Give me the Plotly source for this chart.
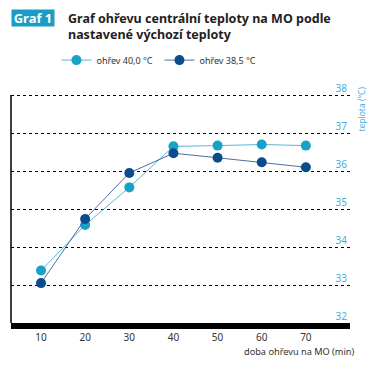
import plotly.graph_objects as go

# ---- data ----
minutes = [10, 20, 30, 40, 50, 60, 70]
ohrev_40 = [33.38, 34.58, 35.57, 36.65, 36.67, 36.70, 36.67]
ohrev_385 = [33.05, 34.74, 35.95, 36.47, 36.35, 36.23, 36.10]
series_names = ["ohřev 40,0 °C", "ohřev 38,5 °C"]
y_ticks = [32, 33, 34, 35, 36, 37, 38]
x_ticks = [10, 20, 30, 40, 50, 60, 70]
x_minor = [15, 25, 35, 45, 55, 65]
Y_MIN, Y_MAX = 32, 38

# page has an 8px body margin: the figure is drawn shifted by OFF px
OFF = 8
W, H = 375 - OFF, 370 - OFF
Y_TOP = 38.45                     # a little headroom so the "38" label can show
PLOT_L, PLOT_R, PLOT_B = 10.5, 350, 323          # page pixels (reference)
UNIT = 38.0                                         # px per degree
PLOT_T = PLOT_B - (Y_TOP - Y_MIN) * UNIT
ML = PLOT_L - OFF
MR = W - (PLOT_R - OFF)
MT = PLOT_T - OFF
MB = H - (PLOT_B - OFF)
PW, PH = W - ML - MR, H - MT - MB

def px(x):
    return (x - OFF - ML) / PW

def py(y):
    return (H - MB - (y - OFF)) / PH

CYAN = "#19a2c8"
DARK = "#0b4c8c"
FONT = "Noto Sans"

fig = go.Figure()
fig.add_trace(go.Scatter(
    x=minutes, y=ohrev_40, name=series_names[0], mode="lines+markers",
    line=dict(color="rgba(60,170,205,0.85)", width=1),
    marker=dict(color=CYAN, size=10),
))
fig.add_trace(go.Scatter(
    x=minutes, y=ohrev_385, name=series_names[1], mode="lines+markers",
    line=dict(color="rgba(50,85,140,0.85)", width=1),
    marker=dict(color=DARK, size=10),
))

fig.update_layout(
    width=W, height=H,
    margin=dict(l=ML, r=MR, t=MT, b=MB, autoexpand=False),
    paper_bgcolor="white", plot_bgcolor="white",
    font=dict(family=FONT, size=10, color="#333333"),
    showlegend=True,
    legend=dict(orientation="h", x=px(56), y=py(60), xanchor="left", yanchor="middle",
                font=dict(size=9, color="#333333"), entrywidth=58,
                bgcolor="rgba(0,0,0,0)"),
    xaxis=dict(
        range=[3.2, 80], tickvals=x_ticks, ticktext=[str(v) for v in x_ticks],
        showgrid=False, zeroline=False,
        showline=True, linecolor="black", linewidth=6,
        ticks="", 
        tickfont=dict(size=10, color="#333333"),
        minor=dict(tickvals=x_minor, ticks="inside", ticklen=3, tickwidth=2,
                   tickcolor="white", showgrid=False),
    ),
    yaxis=dict(
        range=[Y_MIN, Y_TOP], tickvals=y_ticks, side="right",
        ticklabelposition="inside top",
        showgrid=True, gridcolor="black", griddash="dot", gridwidth=1,
        zeroline=False, showline=False, ticks="",
        tickfont=dict(size=10, color="#45b0d8"),
    ),
    shapes=[
        dict(type="line", xref="paper", yref="y", x0=0, x1=0, y0=Y_MIN, y1=Y_MAX,
             line=dict(color="black", width=1.5)),
    ],
    annotations=[
        dict(text="<b>Graf 1</b>", xref="paper", yref="paper", x=px(11), y=py(18),
             xanchor="left", yanchor="middle", showarrow=False,
             bgcolor="#1a9cc4", width=40, height=14, borderpad=1,
             font=dict(family=FONT, size=13, color="white")),
        dict(text="<b>Graf ohřevu centrální teploty na MO podle<br>nastavené výchozí teploty</b>",
             xref="paper", yref="paper", x=px(66), y=py(26), xanchor="left", yanchor="middle",
             align="left", showarrow=False,
             font=dict(family=FONT, size=12.5, color="#222222")),
        dict(text="teplota (°C)", xref="paper", yref="paper", x=px(362), y=py(84),
             xanchor="center", yanchor="top", textangle=-90, showarrow=False,
             font=dict(family=FONT, size=8.5, color="#45b0d8")),
        dict(text="doba ohřevu na MO (min)", xref="paper", yref="paper", x=px(356), y=py(352),
             xanchor="right", yanchor="middle", showarrow=False,
             font=dict(family=FONT, size=9.2, color="#333333")),
    ],
)

fig.write_html("out.html")
